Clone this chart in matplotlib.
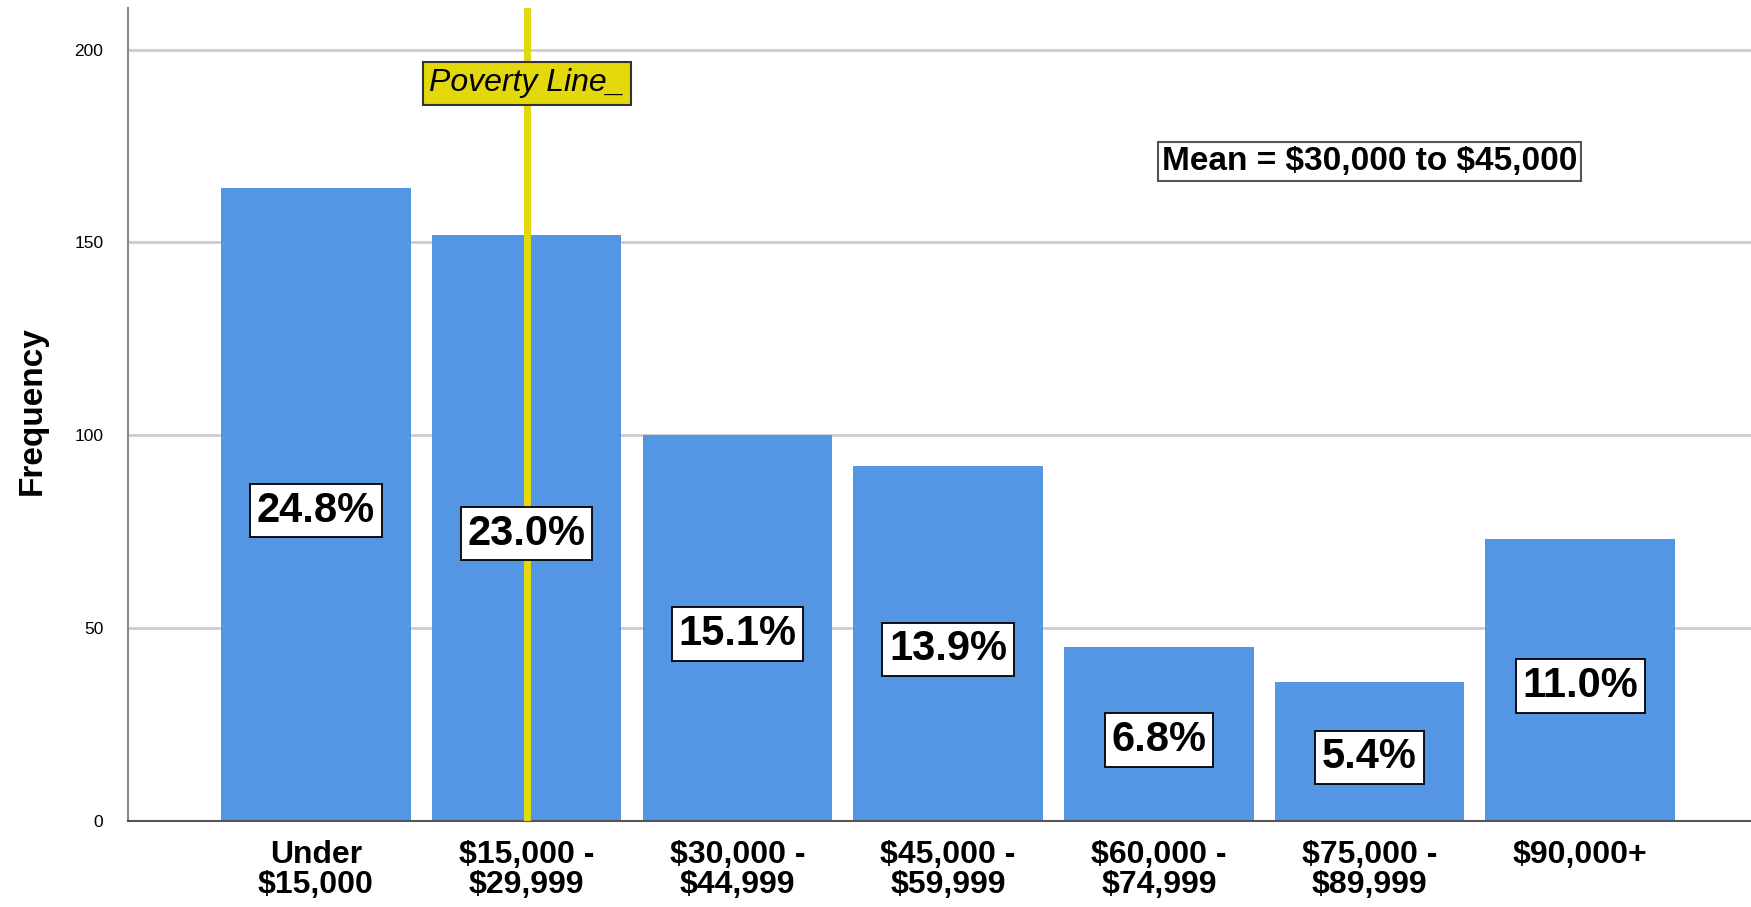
import matplotlib
matplotlib.use("Agg")
import matplotlib.pyplot as plt

# income categories and counts
categories = ["Under\n$15,000", "$15,000 -\n$29,999", "$30,000 -\n$44,999", "$45,000 -\n$59,999",
              "$60,000 -\n$74,999", "$75,000 -\n$89,999", "$90,000+"]
counts = [164, 152, 100, 92, 45, 36, 73]
percents = ["24.8%", "23.0%", "15.1%", "13.9%", "6.8%", "5.4%", "11.0%"]
yticks = [0, 50, 100, 150, 200]
poverty_x = 1.0
mean_text = r"Mean = \$30,000 to \$45,000"

plt.rcParams['font.family'] = ['Liberation Sans', 'DejaVu Sans']

fig = plt.figure(figsize=(17.51, 9.07), dpi=100)
ax = fig.add_axes([0.0733, 0.0948, 0.9267, 0.896])

x = list(range(len(categories)))
ax.bar(x, counts, width=0.9, color="#5596e4", zorder=2)

# percent labels in the bars
for i, (c, p) in enumerate(zip(counts, percents)):
    ax.text(i, c / 2 - 1.5, p, ha="center", va="center", fontsize=30, fontweight="bold",
            zorder=5, bbox=dict(boxstyle="square,pad=0.16", fc="white", ec="black", lw=1.3))

# poverty line
ax.axvline(poverty_x, color="#e2d80c", lw=5, zorder=4)
ax.text(poverty_x, 191.3, "Poverty Line_", ha="center", va="center", fontsize=23, style="italic",
        zorder=6, bbox=dict(boxstyle="square,pad=0.2", fc="#e2d80c", ec="#333333", lw=1.5))

ax.text(5.0, 170.9, mean_text, ha="center", va="center", fontsize=24, fontweight="bold",
        zorder=6, bbox=dict(boxstyle="square,pad=0.12", fc="white", ec="#555555", lw=1.5))

ax.set_xlim(-0.89, 6.81)
ax.set_ylim(0, 210.7)
ax.set_yticks(yticks)
ax.set_xticks(x)
ax.set_xticklabels([c.replace("$", r"\$") for c in categories], fontsize=23, fontweight="bold",
                   linespacing=1.0)
ax.tick_params(axis="y", length=0, labelsize=12.5, pad=18)
ax.tick_params(axis="x", length=0, pad=14)
ax.set_ylabel("Frequency", fontsize=24, fontweight="bold")
ax.yaxis.set_label_coords(-0.0496, 0.505)

ax.grid(axis="y", color="#cccccc", lw=2, zorder=0)
ax.set_axisbelow(True)
for s in ["top", "right"]:
    ax.spines[s].set_visible(False)
ax.spines["left"].set_color("#888888")
ax.spines["left"].set_linewidth(1.5)
ax.spines["bottom"].set_color("#555555")
ax.spines["bottom"].set_linewidth(1.5)

fig.savefig("out.png", dpi=100)
